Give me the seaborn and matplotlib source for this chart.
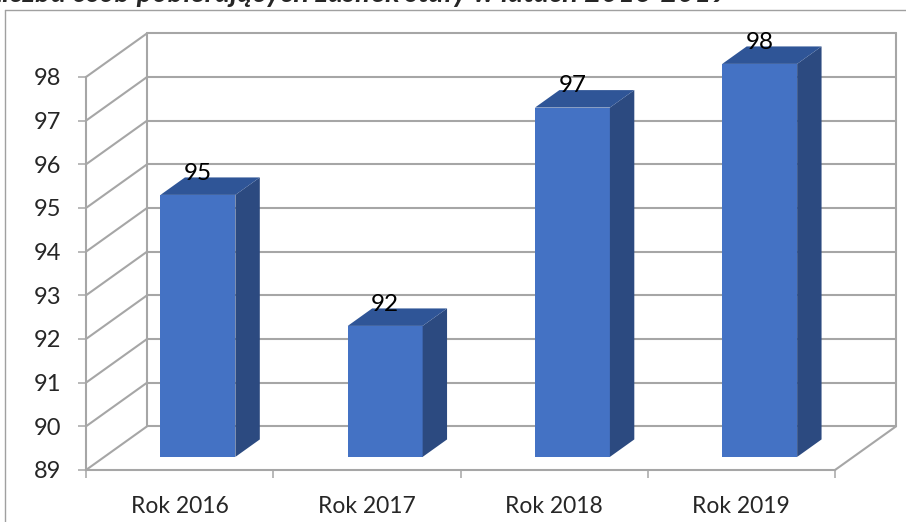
import matplotlib
matplotlib.use('Agg')
import matplotlib.pyplot as plt
import seaborn as sns
import pandas as pd
from matplotlib.patches import Polygon
from matplotlib.lines import Line2D

# dane
years = ['Rok 2016', 'Rok 2017', 'Rok 2018', 'Rok 2019']
counts = [95, 92, 97, 98]
y_ticks = list(range(89, 99))
title = 'Liczba osób pobierających zasiłek stały w latach 2016-2019'

sns.set_theme(style='white')
plt.rcParams['font.family'] = ['Lato', 'DejaVu Sans']

W, H = 906, 522
fig = plt.figure(figsize=(W / 100, H / 100), dpi=100)
ax = fig.add_axes([86 / W, 52 / H, 749 / W, 393 / H])

df = pd.DataFrame({'rok': years, 'liczba': counts})
sns.barplot(data=df, x='rok', y='liczba', width=0.4, color='#4472C4',
            saturation=1, linewidth=0, ax=ax)
ax.set_xlim(-0.5, 3.5)
ax.set_ylim(y_ticks[0], y_ticks[-1])

# pseudo-3D: wektor glebi w jednostkach danych
DX, DY = 0.326, 1.0
f0, f1 = 0.3, 0.7
grid_c = '#A6A6A6'
side_c = '#2C4A80'
top_c = '#2F5597'
base = y_ticks[0]

# sciany: tylna + lewa + podloga
for y in y_ticks:
    ax.plot([-0.5 + DX, 3.5 + DX], [y + DY, y + DY], color=grid_c, lw=1.5, clip_on=False, zorder=1)
    ax.plot([-0.5, -0.5 + DX], [y, y + DY], color=grid_c, lw=1.5, clip_on=False, zorder=1)
for xv in [-0.5 + DX, 3.5 + DX]:
    ax.plot([xv, xv], [base + DY, y_ticks[-1] + DY], color=grid_c, lw=1.5, clip_on=False, zorder=1)
ax.plot([3.5, 3.5 + DX], [base, base + DY], color=grid_c, lw=1.5, clip_on=False, zorder=1)

for p, v in zip(list(ax.patches), counts):
    w = p.get_width()
    x0 = p.get_x() + f0 * DX
    p.set_x(x0)
    p.set_y(base + f0 * DY)
    p.set_height(v - base)
    p.set_clip_on(False)
    p.set_zorder(3)
    d = f1 - f0
    top_front = v + f0 * DY
    top_back = v + f1 * DY
    side = [(x0 + w, base + f0 * DY), (x0 + w + d * DX, base + f1 * DY),
            (x0 + w + d * DX, top_back), (x0 + w, top_front)]
    topf = [(x0, top_front), (x0 + w, top_front),
            (x0 + w + d * DX, top_back), (x0 + d * DX, top_back)]
    ax.add_patch(Polygon(side, closed=True, fc=side_c, ec='none', clip_on=False, zorder=3))
    ax.add_patch(Polygon(topf, closed=True, fc=top_c, ec='none', clip_on=False, zorder=3))
    ax.text(x0 + w / 2, top_back - 0.05, str(v), ha='center', va='baseline',
            fontsize=17.5, color='black', clip_on=False, zorder=4)

ax.set_xlabel('')
ax.set_ylabel('')
ax.set_yticks(y_ticks)
ax.tick_params(axis='y', length=5.8, width=1.1, color=grid_c, pad=12, labelsize=17, left=True)
ax.set_xticks([-0.5, 0.5, 1.5, 2.5, 3.5], minor=True)
ax.tick_params(axis='x', which='major', length=0, pad=19, labelsize=16.5)
ax.tick_params(axis='x', which='minor', length=5.8, width=1.1, color=grid_c, bottom=True)
for s in ['top', 'right']:
    ax.spines[s].set_visible(False)
for s in ['left', 'bottom']:
    ax.spines[s].set_color(grid_c)
    ax.spines[s].set_linewidth(1.5)
ax.set_facecolor('none')

# ramka wykresu i ucięty tytuł
fig.add_artist(Line2D([5 / W, 1], [1 - 10 / H, 1 - 10 / H], transform=fig.transFigure, color='#A0A0A0', lw=1))
fig.add_artist(Line2D([5 / W, 5 / W], [0, 1 - 10 / H], transform=fig.transFigure, color='#A0A0A0', lw=1))
fig.text(728 / W, 1 - 2 / H, title, ha='right', va='baseline', fontsize=21,
         fontweight='bold', fontstyle='italic')

plt.savefig('out.png', dpi=100)
